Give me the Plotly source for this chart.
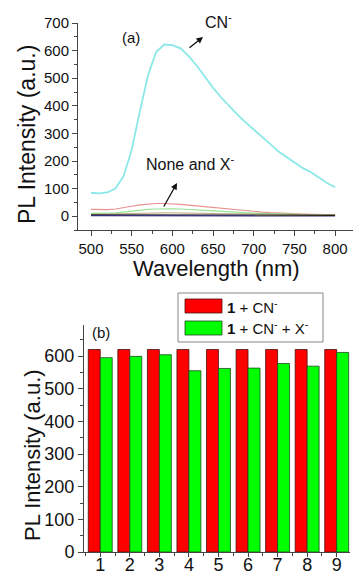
import plotly.graph_objects as go

# ---------- Data: panel (a) ----------
wavelength = [500, 510, 520, 530, 540, 550, 560, 570, 580, 590, 600, 610, 620, 630, 640, 650,
              660, 670, 680, 690, 700, 710, 720, 730, 740, 750, 760, 770, 780, 790, 800]
pl_cn = [85, 83, 86, 100, 145, 240, 380, 510, 595, 622, 620, 608, 580, 545, 505, 465,
         430, 398, 368, 340, 315, 290, 262, 235, 215, 195, 175, 160, 140, 120, 105]
pl_none = [25, 24, 24, 26, 30, 36, 41, 44, 46, 46, 45, 43, 40, 37, 34, 31,
           28, 25, 22, 19, 17, 15, 13, 11, 10, 9, 8, 7, 6, 6, 5]
pl_x1 = [10, 10, 10, 12, 15, 19, 22, 25, 26, 27, 27, 26, 25, 23, 21, 19,
         17, 15, 14, 12, 11, 10, 9, 8, 8, 7, 7, 6, 6, 6, 6]
pl_x2 = [7, 7, 7, 8, 9, 10, 11, 12, 12, 12, 12, 12, 11, 11, 10, 10,
         9, 9, 8, 8, 8, 7, 7, 7, 7, 6, 6, 6, 6, 6, 6]
pl_x3 = [5, 5, 5, 5, 5, 5, 5, 5, 5, 5, 5, 5, 5, 5, 4, 4,
         4, 4, 4, 4, 3, 3, 3, 3, 3, 3, 3, 3, 3, 3, 3]
pl_x4 = [2, 2, 2, 2, 2, 2, 2, 2, 2, 2, 2, 2, 2, 2, 2, 2,
         2, 2, 2, 2, 1, 1, 1, 1, 1, 1, 1, 1, 1, 1, 1]

# ---------- Data: panel (b) ----------
samples = [1, 2, 3, 4, 5, 6, 7, 8, 9]
pl_1_cn = [620, 620, 620, 620, 620, 620, 620, 620, 620]
pl_1_cn_x = [595, 599, 604, 555, 562, 563, 577, 569, 611]

W, H = 355, 571
FONT = "Arial, Liberation Sans, sans-serif"

def px(x):
    return x / W

def py(y):
    return 1 - y / H

fig = go.Figure()

line_specs = [
    (pl_cn, "#8AE8E8", "CN-", 1.8),
    (pl_none, "#E89090", "None", 1.2),
    (pl_x1, "#98E698", "X1", 1.2),
    (pl_x2, "#B8A878", "X2", 1.0),
    (pl_x3, "#202020", "X3", 1.2),
    (pl_x4, "#3A2E80", "X4", 1.4),
]
for ys, col, nm, wd in line_specs:
    fig.add_trace(go.Scatter(x=wavelength, y=ys, mode="lines", name=nm,
                             line=dict(color=col, width=wd),
                             xaxis="x", yaxis="y", showlegend=False))

fig.add_trace(go.Bar(x=samples, y=pl_1_cn, name="1 + CN-",
                     marker=dict(color="#FF0000", line=dict(color="#4a1010", width=0.8)),
                     xaxis="x2", yaxis="y2", showlegend=False))
fig.add_trace(go.Bar(x=samples, y=pl_1_cn_x, name="1 + CN- + X-",
                     marker=dict(color="#00FF00", line=dict(color="#1f4a1f", width=0.8)),
                     xaxis="x2", yaxis="y2", showlegend=False))

def axis_common(fs, tl=5):
    return dict(showline=True, linecolor="#444", linewidth=1, ticks="outside",
                ticklen=tl, tickcolor="#444", showgrid=False, zeroline=False,
                tickfont=dict(family=FONT, size=fs, color="#111"), automargin=False)

fig.update_layout(
    width=W, height=H,
    margin=dict(l=0, r=0, t=0, b=0),
    paper_bgcolor="white", plot_bgcolor="white",
    barmode="group", bargap=0.19, bargroupgap=0.0,
    font=dict(family=FONT, color="#111"),
    xaxis=dict(domain=[px(78), px(353)], range=[484, 822], anchor="y",
               tickvals=[500, 550, 600, 650, 700, 750, 800],
               minor=dict(dtick=25, tick0=500, ticks="outside", ticklen=3, tickcolor="#444"),
               **axis_common(15)),
    yaxis=dict(domain=[py(230), py(23)], range=[-50, 700], anchor="x",
               tickvals=[0, 100, 200, 300, 400, 500, 600, 700],
               minor=dict(dtick=50, tick0=0, ticks="outside", ticklen=3, tickcolor="#444"),
               **axis_common(15)),
    xaxis2=dict(domain=[px(84), px(350)], range=[0.45, 9.45], anchor="y2",
                tickvals=samples, ticklabelstandoff=-8,
                minor=dict(dtick=0.5, tick0=0.5, ticks="outside", ticklen=3, tickcolor="#444"),
                **axis_common(18, 4)),
    yaxis2=dict(domain=[py(552), py(325)], range=[0, 695], anchor="x2",
                tickvals=[0, 100, 200, 300, 400, 500, 600],
                minor=dict(dtick=50, tick0=0, ticks="outside", ticklen=3, tickcolor="#444"),
                **axis_common(18)),
)

def note(text, x, y, size, angle=0, xanchor="center"):
    return dict(text=text, x=px(x), y=py(y), xref="paper", yref="paper",
                xanchor=xanchor, yanchor="middle", showarrow=False, textangle=angle,
                font=dict(size=size, family=FONT, color="#111"))

ann = [
    note("Wavelength (nm)", 216, 268, 22),
    note("PL Intensity (a.u.)", 27, 135, 23, -90),
    note("PL Intensity (a.u.)", 32, 455, 22, -90),
    note("(a)", 131, 37, 15),
    note("(b)", 101, 332, 15),
    note("CN<sup>-</sup>", 219, 21, 16),
    note("None and X<sup>-</sup>", 191, 163, 16),
    note("<b>1</b> + CN<sup>-</sup>", 225, 306, 15, xanchor="left"),
    note("<b>1</b> + CN<sup>-</sup> + X<sup>-</sup>", 225, 328, 15, xanchor="left"),
    dict(text="", x=px(203), y=py(37), xref="paper", yref="paper",
         ax=-15, ay=12, showarrow=True, arrowhead=2, arrowsize=1, arrowwidth=1.3,
         arrowcolor="#111"),
    dict(text="", x=px(177), y=py(183), xref="paper", yref="paper",
         ax=-14, ay=25, showarrow=True, arrowhead=2, arrowsize=1, arrowwidth=1.3,
         arrowcolor="#111"),
]
fig.update_layout(annotations=ann)

shapes = [
    dict(type="rect", xref="paper", yref="paper", x0=px(178), x1=px(323), y0=py(342), y1=py(293),
         line=dict(color="#888", width=1), fillcolor="white", layer="above"),
    dict(type="rect", xref="paper", yref="paper", x0=px(185), x1=px(222), y0=py(313), y1=py(299),
         line=dict(color="#4a1010", width=0.8), fillcolor="#FF0000", layer="above"),
    dict(type="rect", xref="paper", yref="paper", x0=px(185), x1=px(222), y0=py(335), y1=py(321),
         line=dict(color="#1f4a1f", width=0.8), fillcolor="#00FF00", layer="above"),
]
fig.update_layout(shapes=shapes)

fig.write_html("out.html", config={"displayModeBar": False},
               post_script="document.body.style.margin='0';document.body.style.overflow='hidden';")
